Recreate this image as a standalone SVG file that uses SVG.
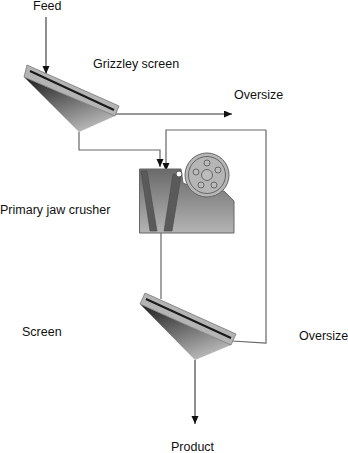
<svg xmlns="http://www.w3.org/2000/svg" width="348" height="453" viewBox="0 0 348 453">
  <style>
    text { font-family: "Liberation Sans", Arial, sans-serif; font-size: 12.5px; fill: #111; }
    .flow { fill: none; stroke: #666; stroke-width: 1.2; }
    .flow-dark { fill: none; stroke: #333; stroke-width: 1.1; }
    .deck { fill: #b4b4b4; stroke: #777; stroke-width: 0.8; }
    .mesh { stroke: #1a1a1a; stroke-width: 2; }
    .jaw { fill: #5a5a5a; stroke: #4a4a4a; stroke-width: 0.6; }
    .wheel { fill: #b6b6b6; stroke: #666; stroke-width: 1; }
    .hole { fill: #bcbcbc; stroke: #666; stroke-width: 1; }
  </style>
  <defs>
    <marker id="head" markerUnits="userSpaceOnUse" markerWidth="10" markerHeight="8" refX="8" refY="3.500" orient="auto">
      <path d="M0 0 L8 3.500 L0 7 Z" fill="#111"/>
    </marker>
    <linearGradient id="hopper" x1="0" y1="0" x2="0.55" y2="1">
      <stop offset="0" stop-color="#1c1c1c"/>
      <stop offset="0.55" stop-color="#6e6e6e"/>
      <stop offset="1" stop-color="#b4b4b4"/>
    </linearGradient>
    <linearGradient id="body" x1="0" y1="0" x2="0" y2="1">
      <stop offset="0" stop-color="#6a6a6a"/>
      <stop offset="1" stop-color="#b4b4b4"/>
    </linearGradient>
  </defs>

  <g id="connectors">
    <path class="flow-dark" d="M46 17 V74" marker-end="url(#head)"/>
    <path class="flow-dark" d="M115 114 H232" marker-end="url(#head)"/>
    <path class="flow" d="M79 132 V150 H160 V167" marker-end="url(#head)"/>
    <path class="flow" d="M266 130 H166 V171" marker-end="url(#head)"/>
    <path class="flow" d="M161 233 V299"/>
    <path class="flow" d="M232 341 L266 343 V130"/>
    <path class="flow-dark" d="M195 360 V424" marker-end="url(#head)"/>
  </g>

  <g id="grizzly-screen">
    <path d="M24 77 L115 116 L79 132 Z" fill="url(#hopper)"/>
    <path class="deck" d="M27 65 L119 106 L115 116 L24 77 Z"/>
    <path class="mesh" d="M30 71 L114 110"/>
  </g>

  <g id="jaw-crusher">
    <path d="M139.500 169 H181 L183 183 L199 190 L224 191 L234 201 V233 H139.500 Z" fill="url(#body)" stroke="#666" stroke-width="1"/>
    <path class="jaw" d="M141 171 H147 L157 231 H150 Z"/>
    <path class="jaw" d="M173 174 L181 176 L172 231 H164 Z"/>
    <circle cx="179" cy="174" r="3" fill="#fff" stroke="#555" stroke-width="1"/>
    <circle class="wheel" cx="207" cy="175" r="22"/>
    <circle class="wheel" cx="207" cy="175" r="18.500"/>
    <circle class="hole" cx="207" cy="175" r="5.500"/>
    <circle class="hole" cx="207" cy="163" r="3"/>
    <circle class="hole" cx="218" cy="170" r="3"/>
    <circle class="hole" cx="214" cy="185" r="3"/>
    <circle class="hole" cx="201" cy="185" r="3"/>
    <circle class="hole" cx="196" cy="172" r="3"/>
  </g>

  <g id="screen">
    <path d="M140 304 L231 345 L195 360 Z" fill="url(#hopper)"/>
    <path class="deck" d="M145 293 L236 334 L231 345 L140 304 Z"/>
    <path class="mesh" d="M146 299 L231 338"/>
  </g>

  <g id="labels">
    <text x="33" y="10">Feed</text>
    <text x="93" y="68">Grizzley screen</text>
    <text x="234" y="99">Oversize</text>
    <text x="0" y="214">Primary jaw crusher</text>
    <text x="22" y="336">Screen</text>
    <text x="299" y="340">Oversize</text>
    <text x="171" y="451">Product</text>
  </g>
</svg>
